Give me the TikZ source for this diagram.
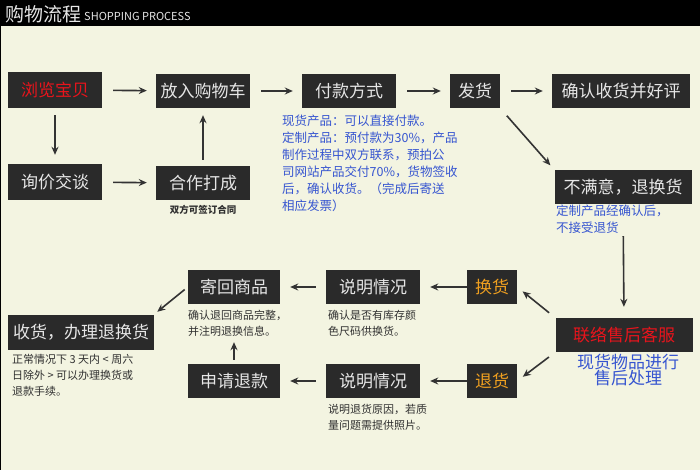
\documentclass[tikz,border=0pt]{standalone}
\usepackage{fontspec}
\setmainfont{Noto Sans CJK SC}
\usetikzlibrary{arrows.meta,positioning}
\definecolor{paper}{HTML}{F3F4E1}
\definecolor{boxgray}{HTML}{2A2A2A}
\definecolor{boxtext}{HTML}{E6E6E6}
\definecolor{hotred}{HTML}{E8141C}
\definecolor{amber}{HTML}{F0A020}
\definecolor{noteblue}{HTML}{3655D0}
\definecolor{notegray}{HTML}{303030}
\definecolor{arrowgray}{HTML}{333333}
\tikzset{
  stepbox/.style={fill=boxgray, text=boxtext, minimum height=34pt, inner sep=0pt,
    font=\fontsize{17}{20}\selectfont},
  wide/.style={stepbox, minimum width=94pt},
  narrow/.style={stepbox, minimum width=50pt},
  note/.style={align=left, anchor=north west, inner sep=0pt, text=notegray,
    font=\fontsize{11}{16}\selectfont},
  bluenote/.style={note, text=noteblue, font=\fontsize{12.5}{17}\selectfont},
  flow/.style={-{Stealth[length=8pt,width=7pt]}, line width=1.6pt, draw=arrowgray,
    shorten <=11pt, shorten >=9pt}
}

\begin{document}
\begin{tikzpicture}[x=1pt, y=-1pt]
  \fill[paper] (0,0) rectangle (700,470);
  \useasboundingbox (0,0) rectangle (700,470);
  \fill[black] (0,0) rectangle (700,26);
  \draw[black, line width=1pt] (0,0) rectangle (700,470);
  \node[anchor=west, text=boxtext, inner sep=0pt, font=\fontsize{19}{20}\selectfont] (title) at (5,14) {购物流程};
  \node[anchor=west, text=boxtext, inner sep=0pt, font=\fontsize{11}{12}\selectfont] (subtitle) at (84,16) {SHOPPING PROCESS};

  % buying
  \node[wide, text=hotred, minimum height=36pt] (browse) at (55,90) {浏览宝贝};
  \node[wide] (cart) at (203,91) {放入购物车};
  \node[wide] (pay) at (349,91) {付款方式};
  \node[narrow] (ship) at (475,91) {发货};
  \node[stepbox, minimum width=138pt] (confirm) at (621,91) {确认收货并好评};
  \node[wide, minimum height=36pt] (inquire) at (55,182) {询价交谈};
  \node[wide] (deal) at (203,183) {合作打成};
  \node[inner sep=0pt, text=notegray, font=\bfseries\fontsize{9.5}{11}\selectfont] (dealnote) at (203,210) {双方可签订合同};
  \node[bluenote] (paynote) at (282,115) {现货产品：可以直接付款。\\定制产品：预付款为30\%，产品\\制作过程中双方联系，预拍公\\司网站产品交付70\%，货物签收\\后，确认收货。（完成后寄送\\相应发票）};

  % after sale
  \node[stepbox, minimum width=137pt] (unhappy) at (623,187) {不满意，退换货};
  \node[bluenote] (unhappynote) at (556,205) {定制产品经确认后，\\不接受退货};
  \node[stepbox, minimum width=137pt, text=hotred] (service) at (624,335) {联络售后客服};
  \node[align=center, inner sep=0pt, text=noteblue, font=\fontsize{17}{13}\selectfont] (servicenote) at (628,370) {现货物品进行\\售后处理};

  \node[narrow, text=amber] (exchange) at (492,287) {换货};
  \node[wide] (explainA) at (373,287) {说明情况};
  \node[stepbox, minimum width=92pt] (sendback) at (234,287) {寄回商品};
  \node[note] (explainAnote) at (328,310) {确认是否有库存颜\\色尺码供换货。};
  \node[note] (sendbacknote) at (188,310) {确认退回商品完整，\\并注明退换信息。};

  \node[narrow, text=amber] (refund) at (492,381) {退货};
  \node[wide] (explainB) at (373,381) {说明情况};
  \node[stepbox, minimum width=92pt] (apply) at (234,381) {申请退款};
  \node[note] (explainBnote) at (328,404) {说明退货原因，若质\\量问题需提供照片。};

  \node[stepbox, minimum width=146pt, minimum height=35pt] (done) at (81,332) {收货，办理退换货};
  \node[note] (donenote) at (12,354) {正常情况下 3 天内 < 周六\\日除外 > 可以办理换货或\\退款手续。};

  % arrows
  \draw[flow] (browse) -- (cart);
  \draw[flow] (cart) -- (pay);
  \draw[flow] (pay) -- (ship);
  \draw[flow] (ship) -- (confirm);
  \draw[flow, shorten <=7pt] (browse) -- (inquire);
  \draw[flow] (inquire) -- (deal);
  \draw[flow, shorten <=6pt, shorten >=7pt] (deal) -- (cart);
  \draw[flow, shorten <=10pt, shorten >=6pt] (ship.south east) -- (unhappy.north west);
  \draw[flow, shorten <=32pt, shorten >=11pt] (unhappy.south) -- (service.north);
  \draw[flow, shorten <=8pt, shorten >=7pt] (service.north west) -- (exchange.east);
  \draw[flow, shorten <=8pt, shorten >=7pt] (service.south west) -- (refund.east);
  \draw[flow, shorten <=0pt, shorten >=10pt] (exchange) -- (explainA);
  \draw[flow, shorten <=10pt, shorten >=10pt] (explainA) -- (sendback);
  \draw[flow, shorten <=4pt, shorten >=4pt] (sendback.west) -- (done.north east);
  \draw[flow, shorten <=0pt, shorten >=10pt] (refund) -- (explainB);
  \draw[flow, shorten <=10pt, shorten >=10pt] (explainB) -- (apply);
  \draw[flow, shorten <=4pt, shorten >=38pt] (apply.north) -- (sendback.south);
\end{tikzpicture}
\end{document}
